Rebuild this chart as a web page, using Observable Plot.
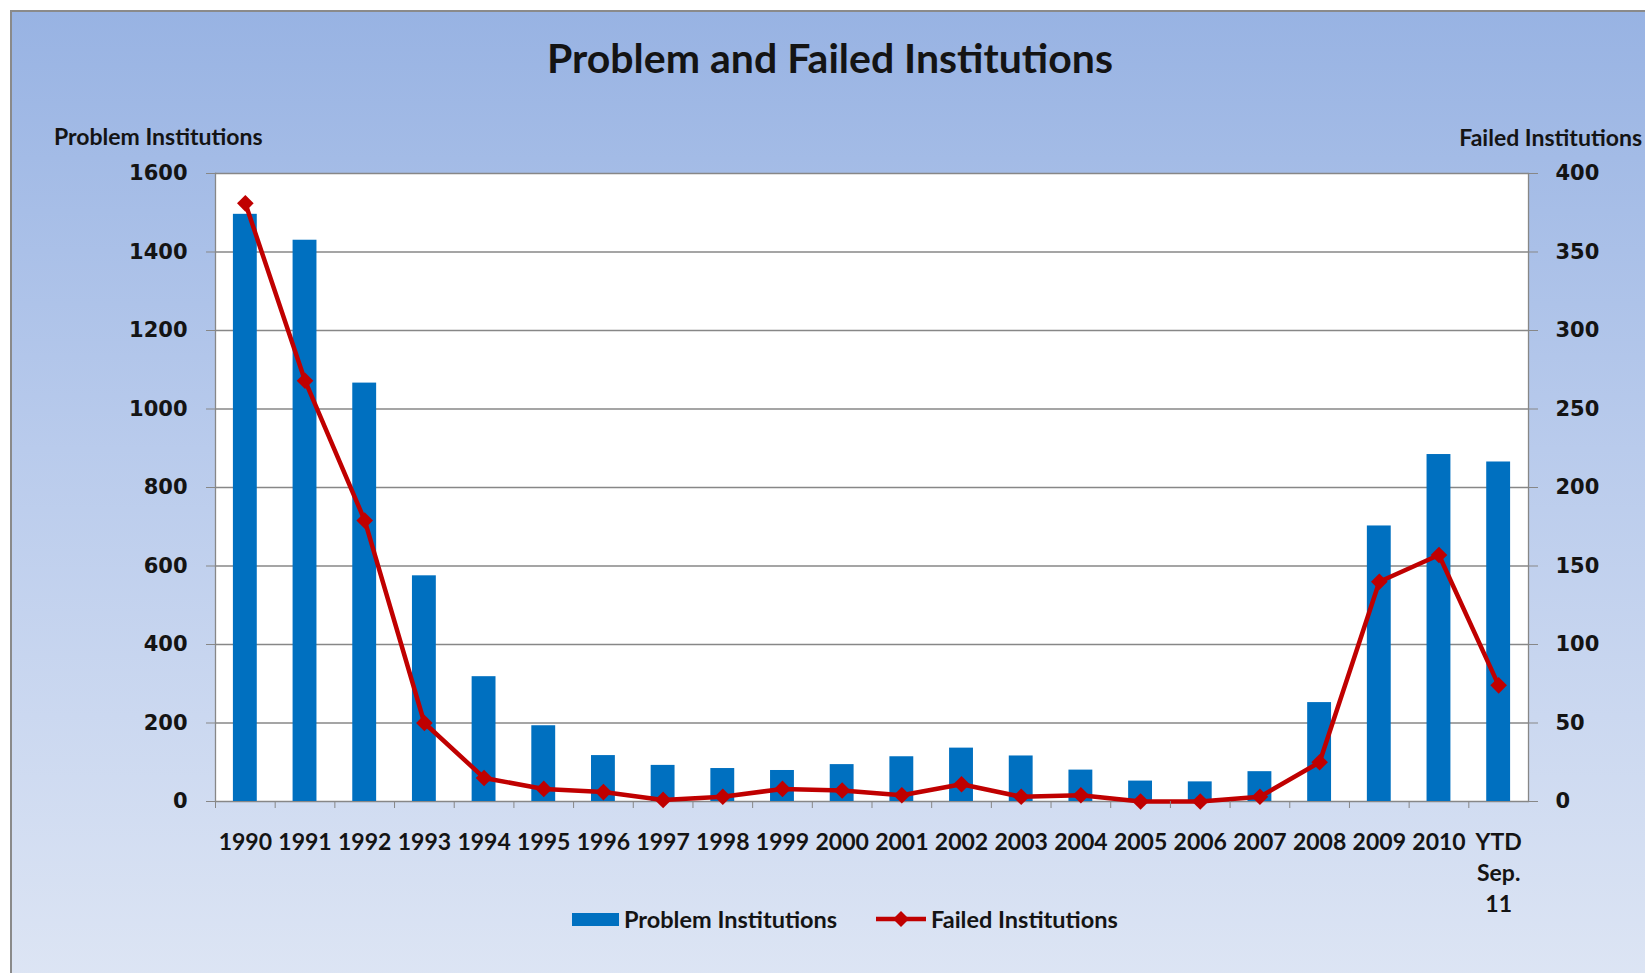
<!DOCTYPE html>
<html><head><meta charset="utf-8">
<script src="https://cdn.jsdelivr.net/npm/d3@7"></script>
<script src="https://cdn.jsdelivr.net/npm/@observablehq/plot@0.6"></script>
<style>
html,body{margin:0;padding:0;background:#fff;}
#wrap{position:relative;width:1645px;height:973px;overflow:hidden;background:#fff;font-family:Lato,sans-serif;color:#141414;}
#panel{position:absolute;left:10px;top:10px;width:1645px;height:973px;box-sizing:border-box;border-left:2px solid #8a8a8a;border-top:2px solid #8a8a8a;background:linear-gradient(to bottom,#98b3e3 0%,#b9cbec 45%,#dde5f4 100%);}
#title{position:absolute;left:0;width:1660px;top:34px;text-align:center;font-weight:700;font-size:41px;line-height:48px;}
.axt{position:absolute;font-weight:700;font-size:23px;line-height:26px;white-space:nowrap;}
#chart{position:absolute;left:0;top:150px;}
#legend{position:absolute;top:905px;left:0;height:28px;}
.lg{position:absolute;font-weight:700;font-size:23.5px;line-height:28px;white-space:nowrap;top:0;}
</style></head>
<body>
<div id="wrap">
  <div id="panel"></div>
  <div id="title">Problem and Failed Institutions</div>
  <div class="axt" style="left:54px;top:123px;">Problem Institutions</div>
  <div class="axt" style="right:3px;top:124px;">Failed Institutions</div>
  <div id="chart"></div>
  <div id="legend">
    <div style="position:absolute;left:572px;top:8px;width:47px;height:13px;background:#0070C0;"></div>
    <div class="lg" style="left:624px;">Problem Institutions</div>
    <svg style="position:absolute;left:874px;top:3px;" width="54" height="22"><line x1="2" y1="11" x2="52" y2="11" stroke="#C00000" stroke-width="4.5"/><path d="M27,3 L35,11 L27,19 L19,11 Z" fill="#C00000"/></svg>
    <div class="lg" style="left:931px;">Failed Institutions</div>
  </div>
</div>
<script>
const years = ["1990","1991","1992","1993","1994","1995","1996","1997","1998","1999","2000","2001","2002","2003","2004","2005","2006","2007","2008","2009","2010","YTD\nSep.\n11"];
const problem = [1496,1430,1066,575,318,193,117,92,84,79,94,114,136,116,80,52,50,76,252,702,884,865];
const failed = [381,268,179,50,15,8,6,1,3,8,7,4,11,3,4,0,0,3,25,140,157,74];
const leftTicks = [0,200,400,600,800,1000,1200,1400,1600];
const rightTicks = [0,50,100,150,200,250,300,350,400];

const ratio = 1600 / 400;
const data = years.map((y, i) => ({year: y, problem: problem[i], failed: failed[i]}));

const W = 1645, mL = 215, mR = 117;
const step = (W - mL - mR) / years.length;
const grid = "#878787";
const ink = "#141414";

const chart = Plot.plot({
  width: W, height: 771,
  marginLeft: mL, marginRight: mR, marginTop: 23, marginBottom: 120,
  style: {background: "transparent", overflow: "visible", fontFamily: "Lato, sans-serif", color: ink},
  x: {type: "band", domain: years, paddingInner: 0.6, paddingOuter: 0.3, round: false, axis: null},
  y: {domain: [0, 1600], axis: null},
  marks: [
    Plot.frame({fill: "white", stroke: null}),
    Plot.gridY(leftTicks, {stroke: grid, strokeOpacity: 1, strokeWidth: 1.3}),
    Plot.frame({anchor: "left", stroke: grid, strokeWidth: 1.3}),
    Plot.frame({anchor: "right", stroke: grid, strokeWidth: 1.3}),
    Plot.barY(data, {x: "year", y: "problem", fill: "#0070C0"}),
    Plot.line(data, {x: "year", y: d => d.failed * ratio, stroke: "#C00000", strokeWidth: 4.5, strokeLinejoin: "round"}),
    Plot.dot(data, {x: "year", y: d => d.failed * ratio, symbol: "diamond2", r: 7.5, fill: "#C00000", stroke: null}),
    Plot.axisY({anchor: "left", ticks: leftTicks, tickSize: 9, tickPadding: 19, stroke: grid, fill: ink,
      fontSize: 21, fontFamily: "DejaVu Sans", fontWeight: "bold", label: null, tickFormat: d => String(d)}),
    Plot.axisY({anchor: "right", ticks: rightTicks.map(v => v * ratio), tickSize: 9, tickPadding: 18, stroke: grid, fill: ink,
      fontSize: 21, fontFamily: "DejaVu Sans", fontWeight: "bold", label: null, tickFormat: d => String(d / ratio)}),
    Plot.axisX({anchor: "bottom", tickSize: 0, tickPadding: 26, fill: ink, fontSize: 23, fontWeight: "bold",
      fontFamily: "Lato, sans-serif", lineHeight: 1.35, label: null}),
    Plot.axisX({anchor: "bottom", tickSize: 7, tickPadding: 0, stroke: grid, tickFormat: () => "", dx: -step / 2, label: null})
  ]
});
document.getElementById("chart").appendChild(chart);
</script>
</body></html>
